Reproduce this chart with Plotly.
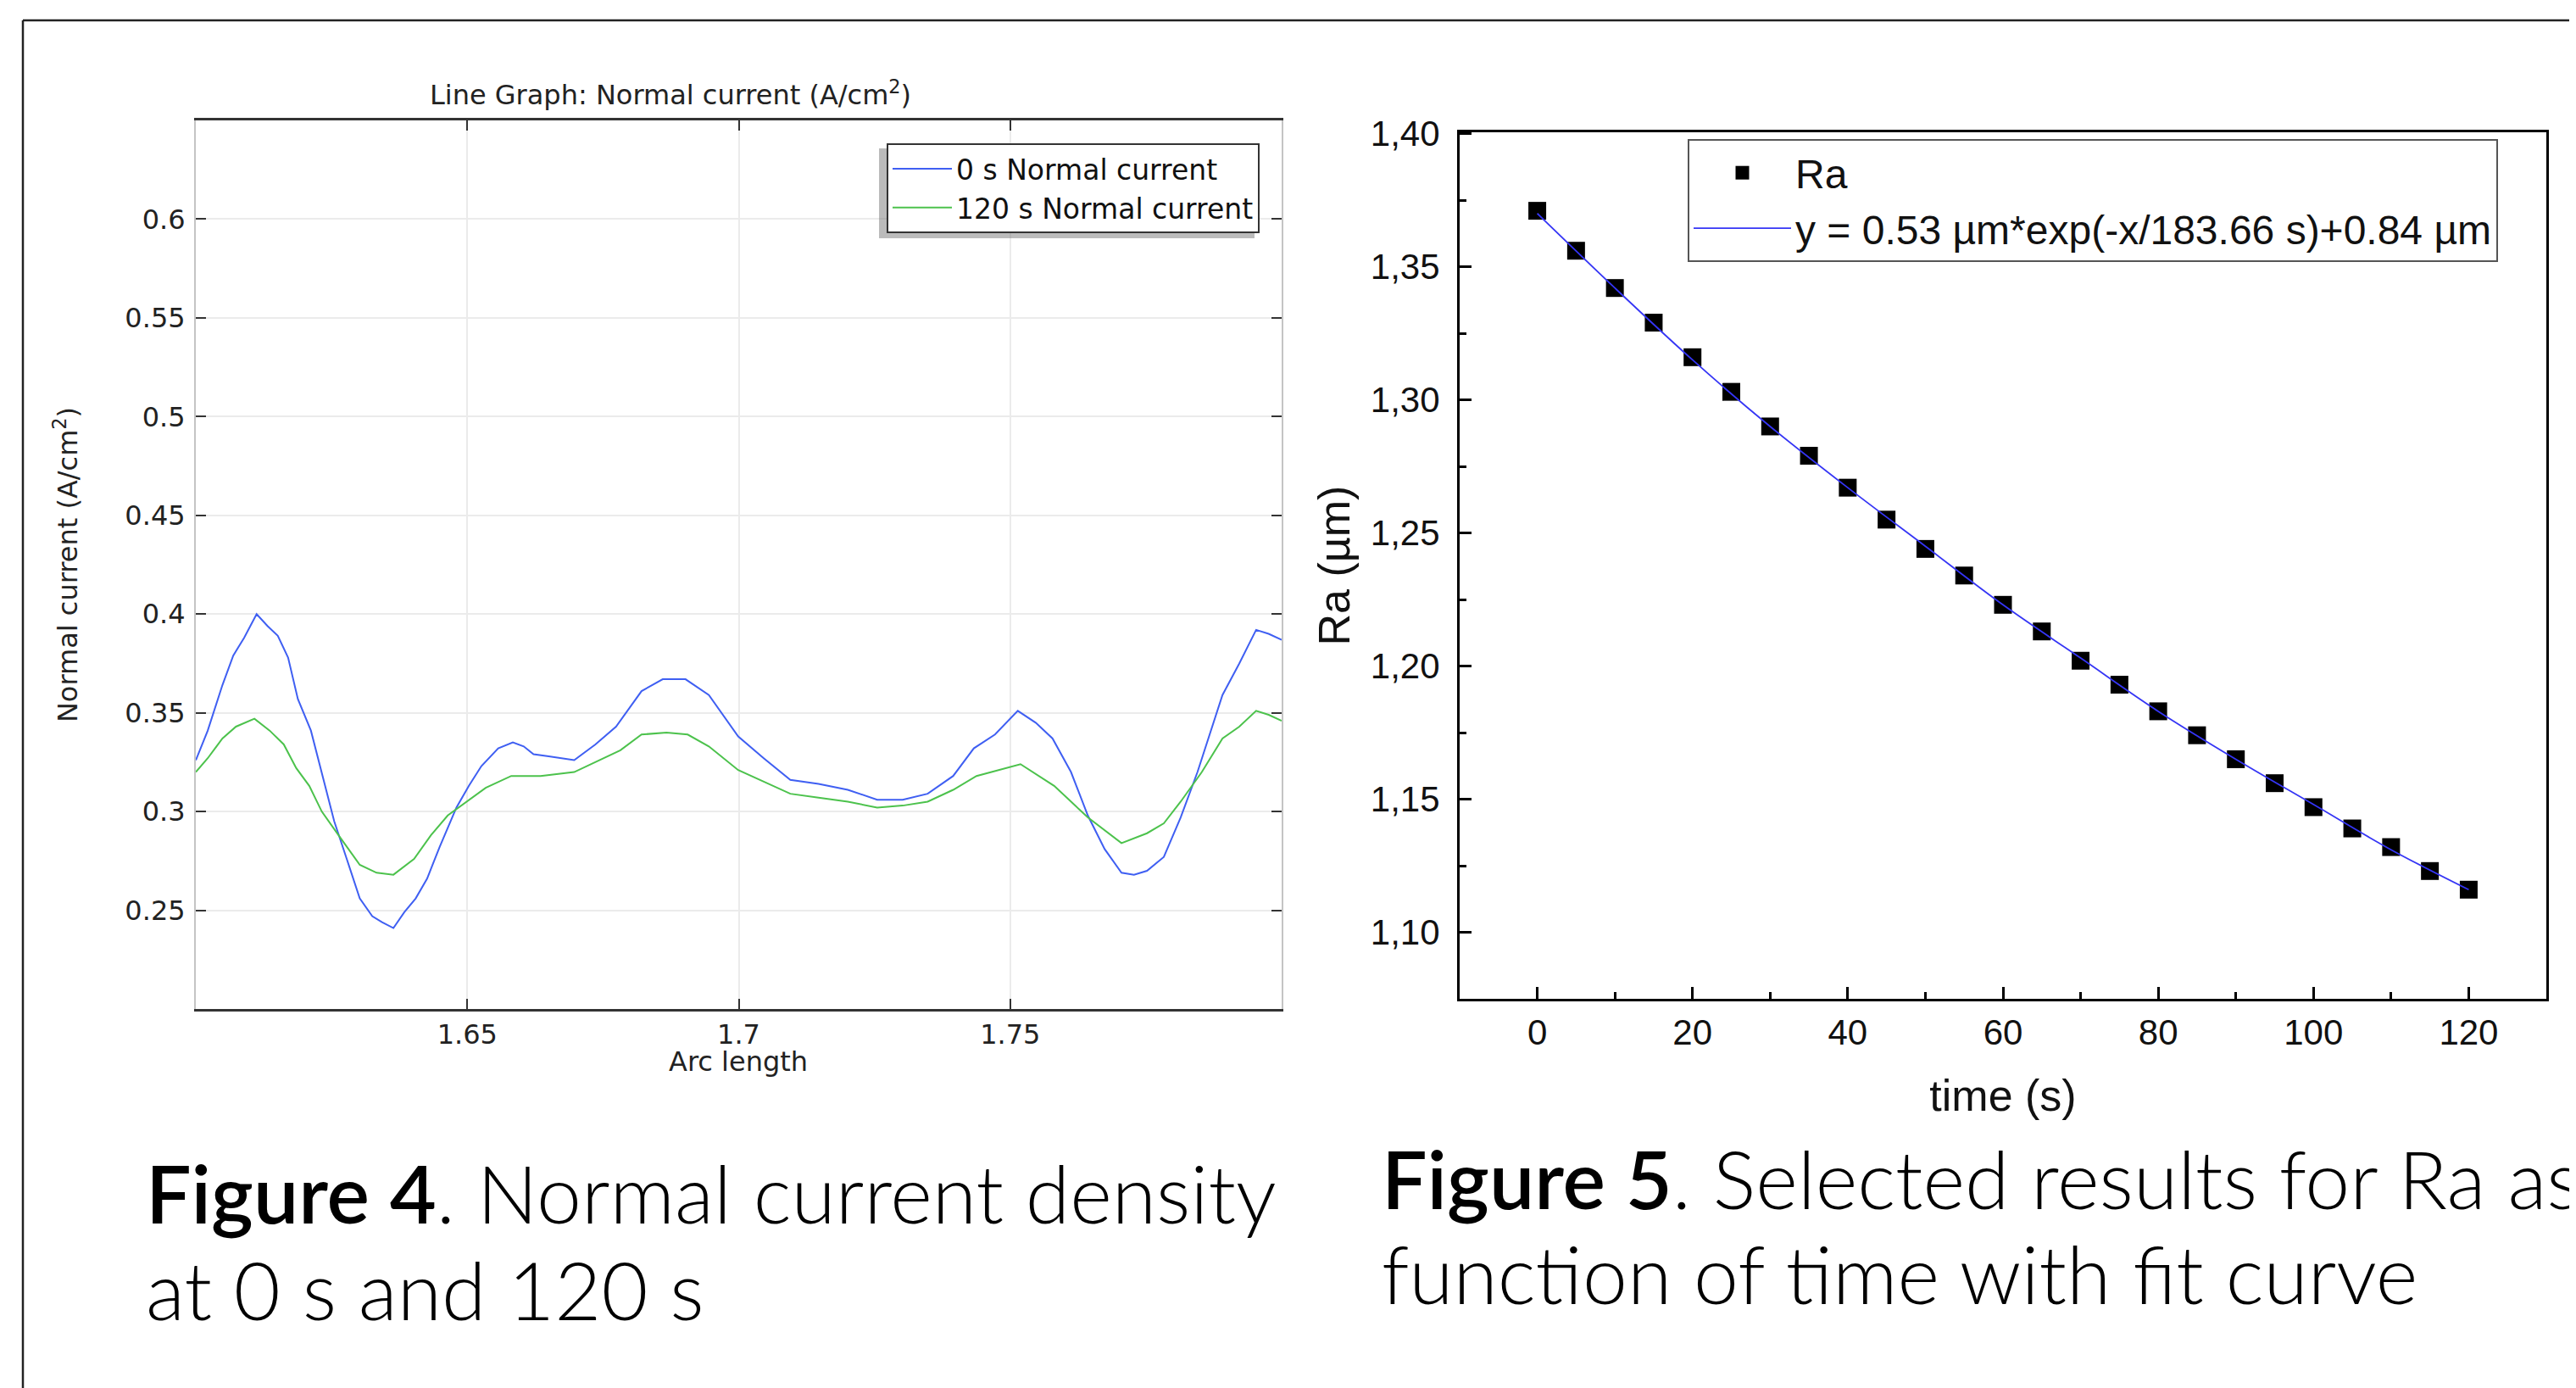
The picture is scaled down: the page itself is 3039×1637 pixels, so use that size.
import plotly.graph_objects as go

W, H = 3039, 1637
OFF = 8  # the page body margin pushes the figure 8 px right and down

# --- Figure 4: normal current along the arc (COMSOL line graph) ---
arc_0s = [1.600, 1.6022, 1.6049, 1.6069, 1.6089, 1.6112, 1.6132, 1.6151, 1.6170, 1.6188,
          1.6212, 1.6232, 1.6255, 1.6278, 1.6302, 1.6325, 1.6343, 1.6364, 1.6384, 1.6405,
          1.6426, 1.6449, 1.6480, 1.6503, 1.6526, 1.6557, 1.6584, 1.6604, 1.6622, 1.6650,
          1.6697, 1.6736, 1.6774, 1.6821, 1.6860, 1.6902, 1.6945, 1.6999, 1.7046, 1.7095,
          1.7147, 1.7201, 1.7255, 1.7302, 1.7348, 1.7395, 1.7433, 1.7472, 1.7514, 1.7547,
          1.7578, 1.7612, 1.7643, 1.7674, 1.7705, 1.7728, 1.7752, 1.7783, 1.7814, 1.7845,
          1.7891, 1.7922, 1.7953, 1.7976, 1.800]
current_0s = [0.326, 0.341, 0.364, 0.379, 0.388, 0.400, 0.394, 0.389, 0.378, 0.357,
              0.341, 0.320, 0.295, 0.276, 0.256, 0.247, 0.244, 0.241, 0.249, 0.256,
              0.266, 0.282, 0.302, 0.313, 0.323, 0.332, 0.335, 0.333, 0.329, 0.328,
              0.326, 0.334, 0.343, 0.361, 0.367, 0.367, 0.359, 0.338, 0.327, 0.316,
              0.314, 0.311, 0.306, 0.306, 0.309, 0.318, 0.332, 0.339, 0.351, 0.345,
              0.337, 0.320, 0.298, 0.281, 0.269, 0.268, 0.270, 0.277, 0.297, 0.320,
              0.359, 0.375, 0.392, 0.390, 0.387]

arc_120s = [1.600, 1.6022, 1.6049, 1.6074, 1.6108, 1.6136, 1.6162, 1.6185, 1.6209, 1.6232,
            1.6263, 1.6302, 1.6333, 1.6364, 1.6402, 1.6433, 1.6464, 1.6503, 1.6534, 1.6581,
            1.6635, 1.6697, 1.6743, 1.6782, 1.6821, 1.6867, 1.6906, 1.6945, 1.6999, 1.7046,
            1.7095, 1.7147, 1.7201, 1.7255, 1.7302, 1.7348, 1.7395, 1.7438, 1.7480, 1.7519,
            1.7581, 1.7643, 1.7705, 1.7752, 1.7783, 1.7814, 1.7853, 1.7891, 1.7922, 1.7953,
            1.7976, 1.800]
current_120s = [0.320, 0.327, 0.337, 0.343, 0.347, 0.341, 0.334, 0.322, 0.313, 0.300,
                0.288, 0.273, 0.269, 0.268, 0.276, 0.288, 0.298, 0.306, 0.312, 0.318,
                0.318, 0.320, 0.326, 0.331, 0.339, 0.340, 0.339, 0.333, 0.321, 0.315,
                0.309, 0.307, 0.305, 0.302, 0.303, 0.305, 0.311, 0.318, 0.321, 0.324,
                0.313, 0.297, 0.284, 0.289, 0.294, 0.305, 0.320, 0.337, 0.343, 0.351,
                0.349, 0.346]

arc_ticks = [1.65, 1.7, 1.75]
arc_ticktext = ["1.65", "1.7", "1.75"]
current_ticks = [0.25, 0.3, 0.35, 0.4, 0.45, 0.5, 0.55, 0.6]
current_ticktext = ["0.25", "0.3", "0.35", "0.4", "0.45", "0.5", "0.55", "0.6"]

# --- Figure 5: Ra versus time with exponential fit ---
time_s = [0, 5, 10, 15, 20, 25, 30, 35, 40, 45, 50, 55, 60,
          65, 70, 75, 80, 85, 90, 95, 100, 105, 110, 115, 120]
ra_um = [1.371, 1.356, 1.342, 1.329, 1.316, 1.303, 1.290, 1.279, 1.267, 1.255, 1.244, 1.234, 1.223,
         1.213, 1.202, 1.193, 1.183, 1.174, 1.165, 1.156, 1.147, 1.139, 1.132, 1.123, 1.116]
fit_time = [0, 10, 20, 30, 40, 50, 60, 70, 80, 90, 100, 110, 120]
fit_ra = [1.370, 1.342, 1.315, 1.290, 1.267, 1.245, 1.223, 1.203, 1.183, 1.165, 1.148, 1.131, 1.116]


def px(x):
    return (x - OFF) / W


def py(y):
    return 1 - (y - OFF) / H


fig = go.Figure()

fig.add_trace(go.Scatter(x=arc_0s, y=current_0s, mode="lines", name="0 s Normal current",
                         line=dict(color="#3f5ff2", width=2), xaxis="x", yaxis="y", legend="legend"))
fig.add_trace(go.Scatter(x=arc_120s, y=current_120s, mode="lines", name="120 s Normal current",
                         line=dict(color="#4cc24c", width=2), xaxis="x", yaxis="y", legend="legend"))

fig.add_trace(go.Scatter(x=time_s, y=ra_um, mode="markers", name="Ra",
                         marker=dict(symbol="square", size=21, color="black"),
                         xaxis="x2", yaxis="y2", legend="legend2"))
fig.add_trace(go.Scatter(x=fit_time, y=fit_ra, mode="lines",
                         name="y = 0.53 µm*exp(-x/183.66 s)+0.84 µm",
                         line=dict(color="#3535f5", width=1.8, shape="spline"),
                         xaxis="x2", yaxis="y2", legend="legend2"))

comsol_font = dict(family="DejaVu Sans", size=32, color="#222")
origin_font = dict(family="Liberation Sans", size=42, color="#111")
origin_title = dict(family="Liberation Sans", size=52, color="#111")

fig.update_layout(
    width=W, height=H,
    margin=dict(l=0, r=0, t=0, b=0),
    paper_bgcolor="white", plot_bgcolor="white",
    separators=",.",
    showlegend=True,
    title=dict(text="Line Graph: Normal current (A/cm<sup>2</sup>)", font=comsol_font,
               x=px(791), y=py(112), xanchor="center", yanchor="middle"),
    xaxis=dict(domain=[px(231), px(1512)], range=[1.6, 1.8], anchor="y",
               tickmode="array", tickvals=arc_ticks, ticktext=arc_ticktext,
               ticks="inside", ticklen=12, tickwidth=2, tickcolor="#333",
               showline=True, linecolor="#333", linewidth=2.5, mirror="ticks",
               showgrid=True, gridcolor="#ebebeb", gridwidth=2, zeroline=False,
               tickfont=comsol_font, automargin=False),
    yaxis=dict(domain=[py(1190), py(142)], range=[0.2, 0.65], anchor="x",
               tickmode="array", tickvals=current_ticks, ticktext=current_ticktext,
               ticks="inside", ticklen=12, tickwidth=2, tickcolor="#333",
               showline=True, linecolor="#c4c4c4", linewidth=2, mirror="ticks",
               showgrid=True, gridcolor="#ebebeb", gridwidth=2, zeroline=False,
               tickfont=comsol_font, automargin=False, ticklabelstandoff=4,
               title=dict(text="Normal current (A/cm<sup>2</sup>)", font=comsol_font, standoff=46)),
    xaxis2=dict(domain=[px(1722), px(3004)], range=[-10, 130], anchor="y2",
                tick0=0, dtick=20, ticks="inside", ticklen=14, tickwidth=2.5, tickcolor="black",
                minor=dict(dtick=10, tick0=0, ticks="inside", ticklen=8, tickwidth=2.5,
                           tickcolor="black", showgrid=False),
                showline=True, linecolor="black", linewidth=3, mirror=True,
                showgrid=False, zeroline=False, tickfont=origin_font, automargin=False,
                ticklabelstandoff=1,
                title=dict(text="time (s)", font=origin_title, standoff=34)),
    yaxis2=dict(domain=[py(1178), py(156)], range=[1.075, 1.4005], anchor="x2",
                tick0=1.1, dtick=0.05, tickformat=".2f",
                ticks="inside", ticklen=14, tickwidth=2.5, tickcolor="black",
                minor=dict(dtick=0.025, tick0=1.1, ticks="inside", ticklen=8, tickwidth=2.5,
                           tickcolor="black", showgrid=False),
                showline=True, linecolor="black", linewidth=3, mirror=True,
                showgrid=False, zeroline=False, tickfont=origin_font, automargin=False,
                ticklabelstandoff=12,
                title=dict(text="Ra (µm)", font=origin_title, standoff=8)),
    legend=dict(x=px(1486), y=py(169), xanchor="right", yanchor="top",
                bgcolor="white", bordercolor="#333", borderwidth=2,
                font=dict(family="DejaVu Sans", size=33, color="#111"),
                itemwidth=70, tracegroupgap=0),
    legend2=dict(x=px(1991), y=py(164), xanchor="left", yanchor="top",
                 bgcolor="white", bordercolor="#555", borderwidth=2,
                 font=dict(family="Liberation Sans", size=48, color="#111"),
                 itemwidth=115, tracegroupgap=0),
)

# x title of the COMSOL graph sits tight under its tick labels
fig.add_annotation(text="Arc length", xref="paper", yref="paper", x=px(871), y=py(1252),
                   xanchor="center", yanchor="middle", showarrow=False, font=comsol_font)

# page frame (top and left edge of the scanned page)
fig.add_shape(type="line", xref="paper", yref="paper", x0=px(27), x1=1, y0=py(24), y1=py(24),
              line=dict(color="#222", width=2.5))
fig.add_shape(type="line", xref="paper", yref="paper", x0=px(27), x1=px(27), y0=0, y1=py(24),
              line=dict(color="#222", width=2.5))

# drop shadow of the COMSOL legend
fig.add_shape(type="rect", xref="paper", yref="paper", x0=px(1037), x1=px(1480), y0=py(281), y1=py(175),
              line=dict(width=0), fillcolor="rgba(120,120,120,0.5)", layer="above")

cap_font = dict(family="Lato", size=95, color="black", weight=300)
fig.add_annotation(text="<span style='font-weight:600'>Figure 4</span>. Normal current density",
                   xref="paper", yref="paper", x=px(170), y=py(1406), xanchor="left", yanchor="middle",
                   showarrow=False, font=cap_font)
fig.add_annotation(text="at 0 s and 120 s",
                   xref="paper", yref="paper", x=px(170), y=py(1520), xanchor="left", yanchor="middle",
                   showarrow=False, font=cap_font)
fig.add_annotation(text="<span style='font-weight:600'>Figure 5</span>. Selected results for Ra as",
                   xref="paper", yref="paper", x=px(1628), y=py(1389), xanchor="left", yanchor="middle",
                   showarrow=False, font=cap_font)
fig.add_annotation(text="function of time with fit curve",
                   xref="paper", yref="paper", x=px(1628), y=py(1501), xanchor="left", yanchor="middle",
                   showarrow=False, font=cap_font)

fig.write_html("out.html")
